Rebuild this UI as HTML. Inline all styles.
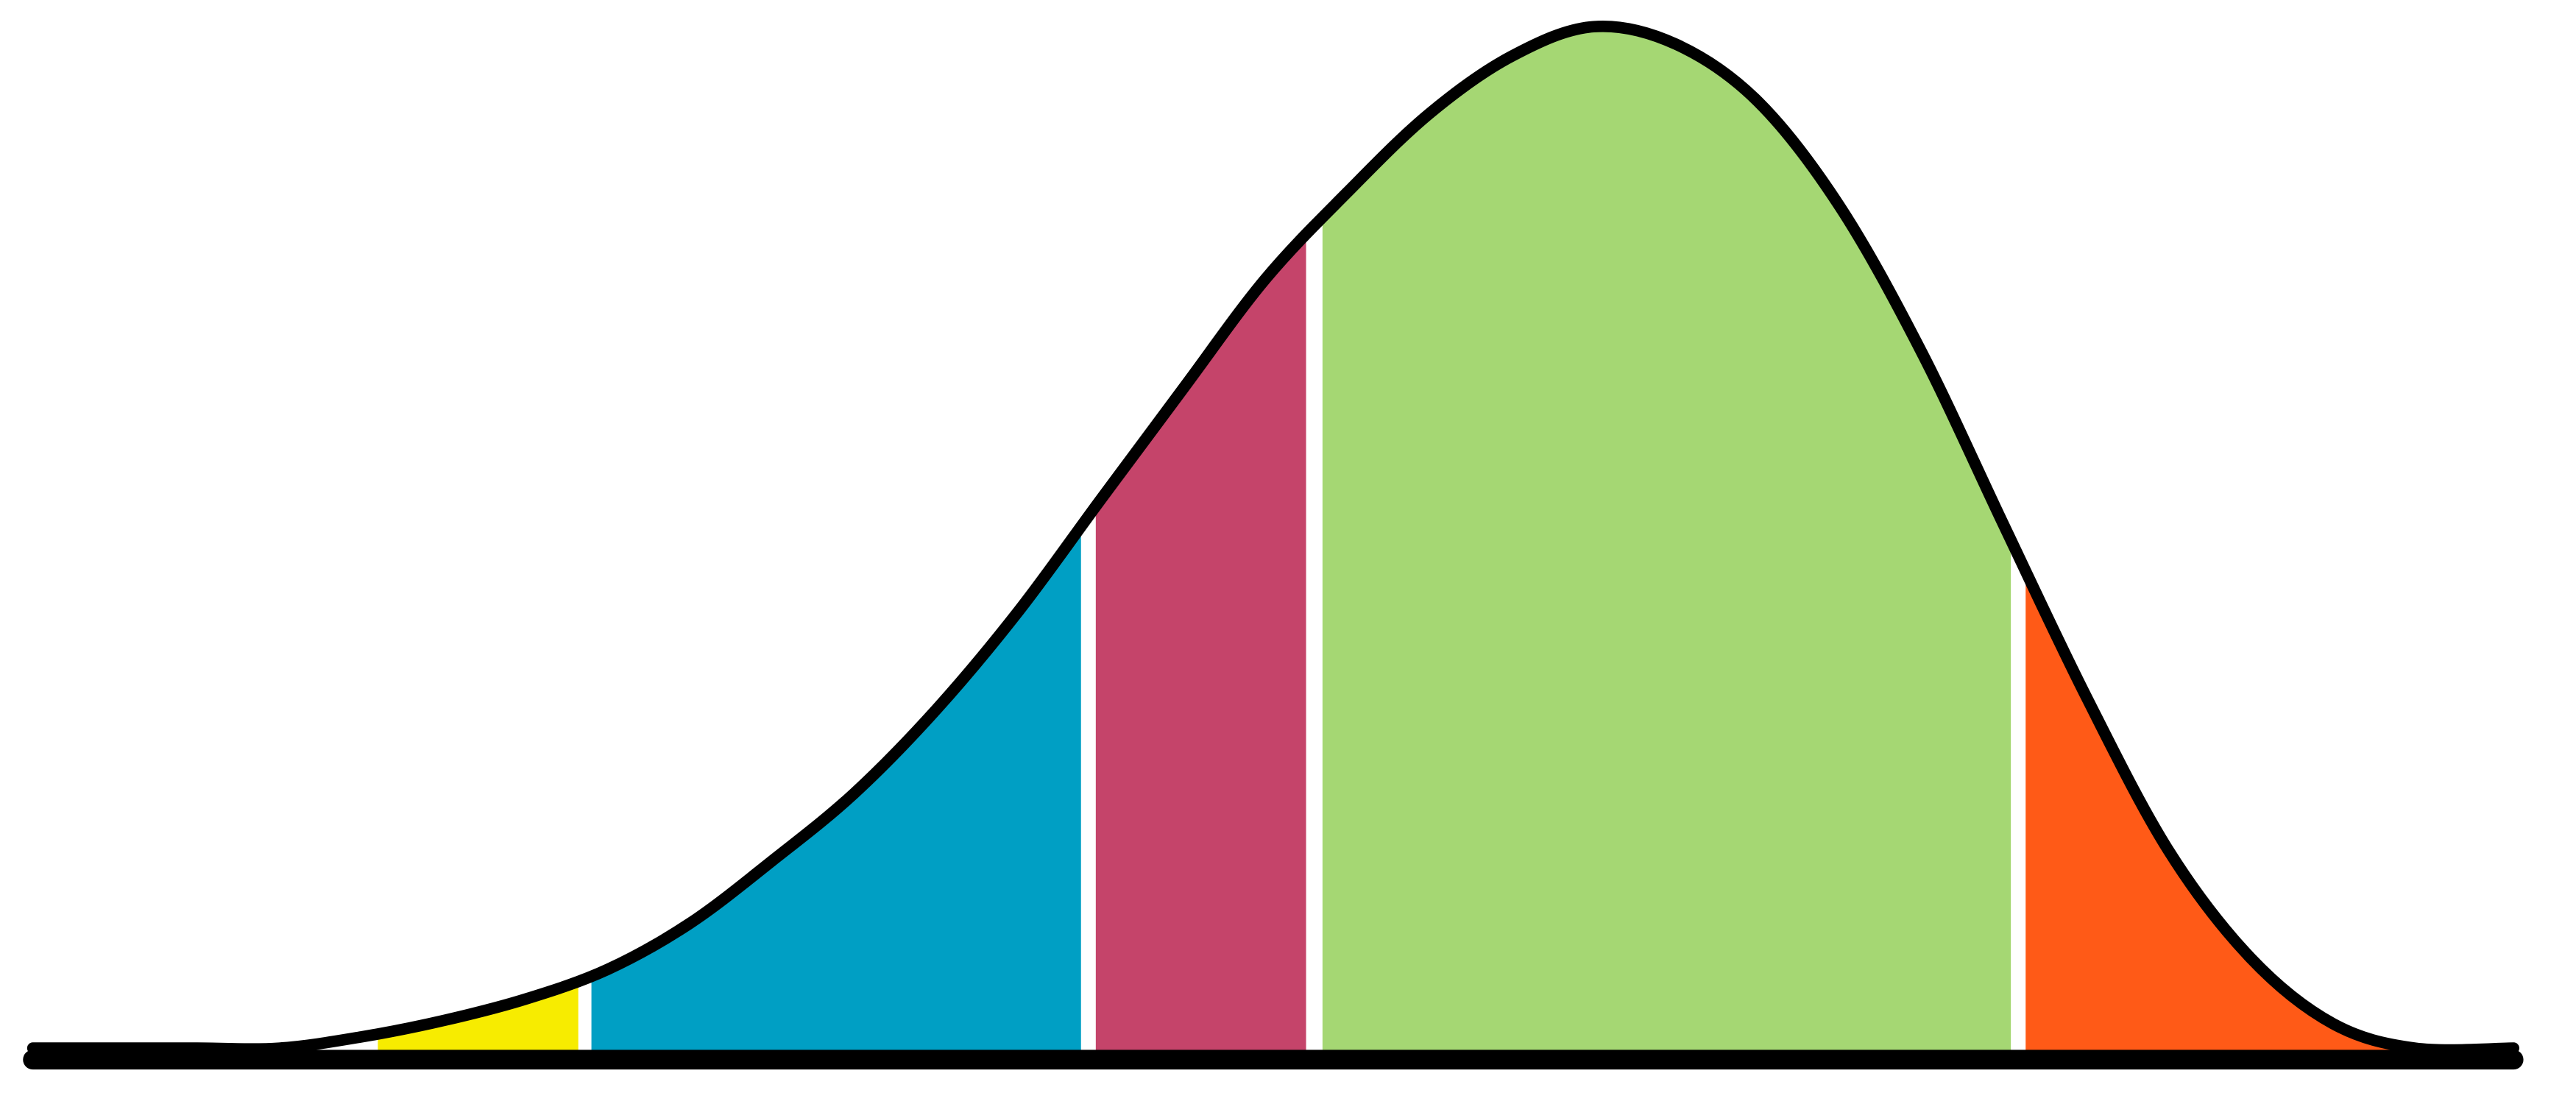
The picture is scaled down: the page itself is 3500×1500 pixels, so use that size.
<!DOCTYPE html>
<html><head><meta charset="utf-8"><style>
html,body{margin:0;padding:0;background:#fff;}
svg{display:block;}
</style></head><body>
<svg id="chart" width="3500" height="1500" viewBox="0 0 1568 672" preserveAspectRatio="none" xmlns="http://www.w3.org/2000/svg">
<defs><clipPath id="under"><path id="clipPath" d=""/></clipPath></defs>
<g id="bands" clip-path="url(#under)"></g>
<line id="baseline" stroke="#000" stroke-width="12" stroke-linecap="round"/>
<path id="curve" fill="none" stroke="#000" stroke-width="7" stroke-linejoin="round" stroke-linecap="round"/>
</svg>
<script>
const scores=[0,5,10,15,20,25,30,35,40,45,50,55,60,65,70,75,80,85,90,95,100,105,110,115,120,125,130,135,140,145,151];
const density=[0,0,0,0,1.1,2.7,4.8,7.7,12.2,18.3,24.9,33.1,42.7,53.6,64.4,75.1,83.6,91.3,96.9,99.8,98.1,92.5,82.2,67.9,51.0,34.3,19.3,8.8,2.4,0,0];
const bandStart=[21,34,64.7,78.5,121.3];
const bandEnd=[33.2,63.8,77.5,120.4,151];
const bandColors=["#f7ec00","#009fc4","#c5446a","#a5d773","#ff5a17"];
const bandNames=["band-yellow","band-blue","band-red","band-green","band-orange"];
const X=s=>20+s*10;
const Y=h=>638-h*6.23;
const NS="http://www.w3.org/2000/svg";
const pts=scores.map((s,i)=>[X(s),Y(density[i])]);
function smooth(p){let d="M"+p[0][0]+","+p[0][1];
 for(let i=0;i<p.length-1;i++){const p0=p[Math.max(0,i-1)],p1=p[i],p2=p[i+1],p3=p[Math.min(p.length-1,i+2)];
  const c1=[p1[0]+(p2[0]-p0[0])/6,p1[1]+(p2[1]-p0[1])/6],c2=[p2[0]-(p3[0]-p1[0])/6,p2[1]-(p3[1]-p1[1])/6];
  d+=" C"+c1[0]+","+c1[1]+" "+c2[0]+","+c2[1]+" "+p2[0]+","+p2[1];}
 return d;}
const cd=smooth(pts);
document.getElementById('curve').setAttribute('d',cd);
document.getElementById('clipPath').setAttribute('d',cd+" L"+X(scores[scores.length-1])+",641 L"+X(0)+",641 Z");
const bl=document.getElementById('baseline');
bl.setAttribute('x1',X(0));bl.setAttribute('x2',X(scores[scores.length-1]));bl.setAttribute('y1',645);bl.setAttribute('y2',645);
const g=document.getElementById('bands');
bandStart.forEach((s,i)=>{const r=document.createElementNS(NS,'rect');
 
 
 r.setAttribute('x',X(s));r.setAttribute('width',X(bandEnd[i])-X(s));
 r.setAttribute('y',0);r.setAttribute('height',642);r.setAttribute('fill',bandColors[i]);g.appendChild(r);});
</script>
</body></html>
